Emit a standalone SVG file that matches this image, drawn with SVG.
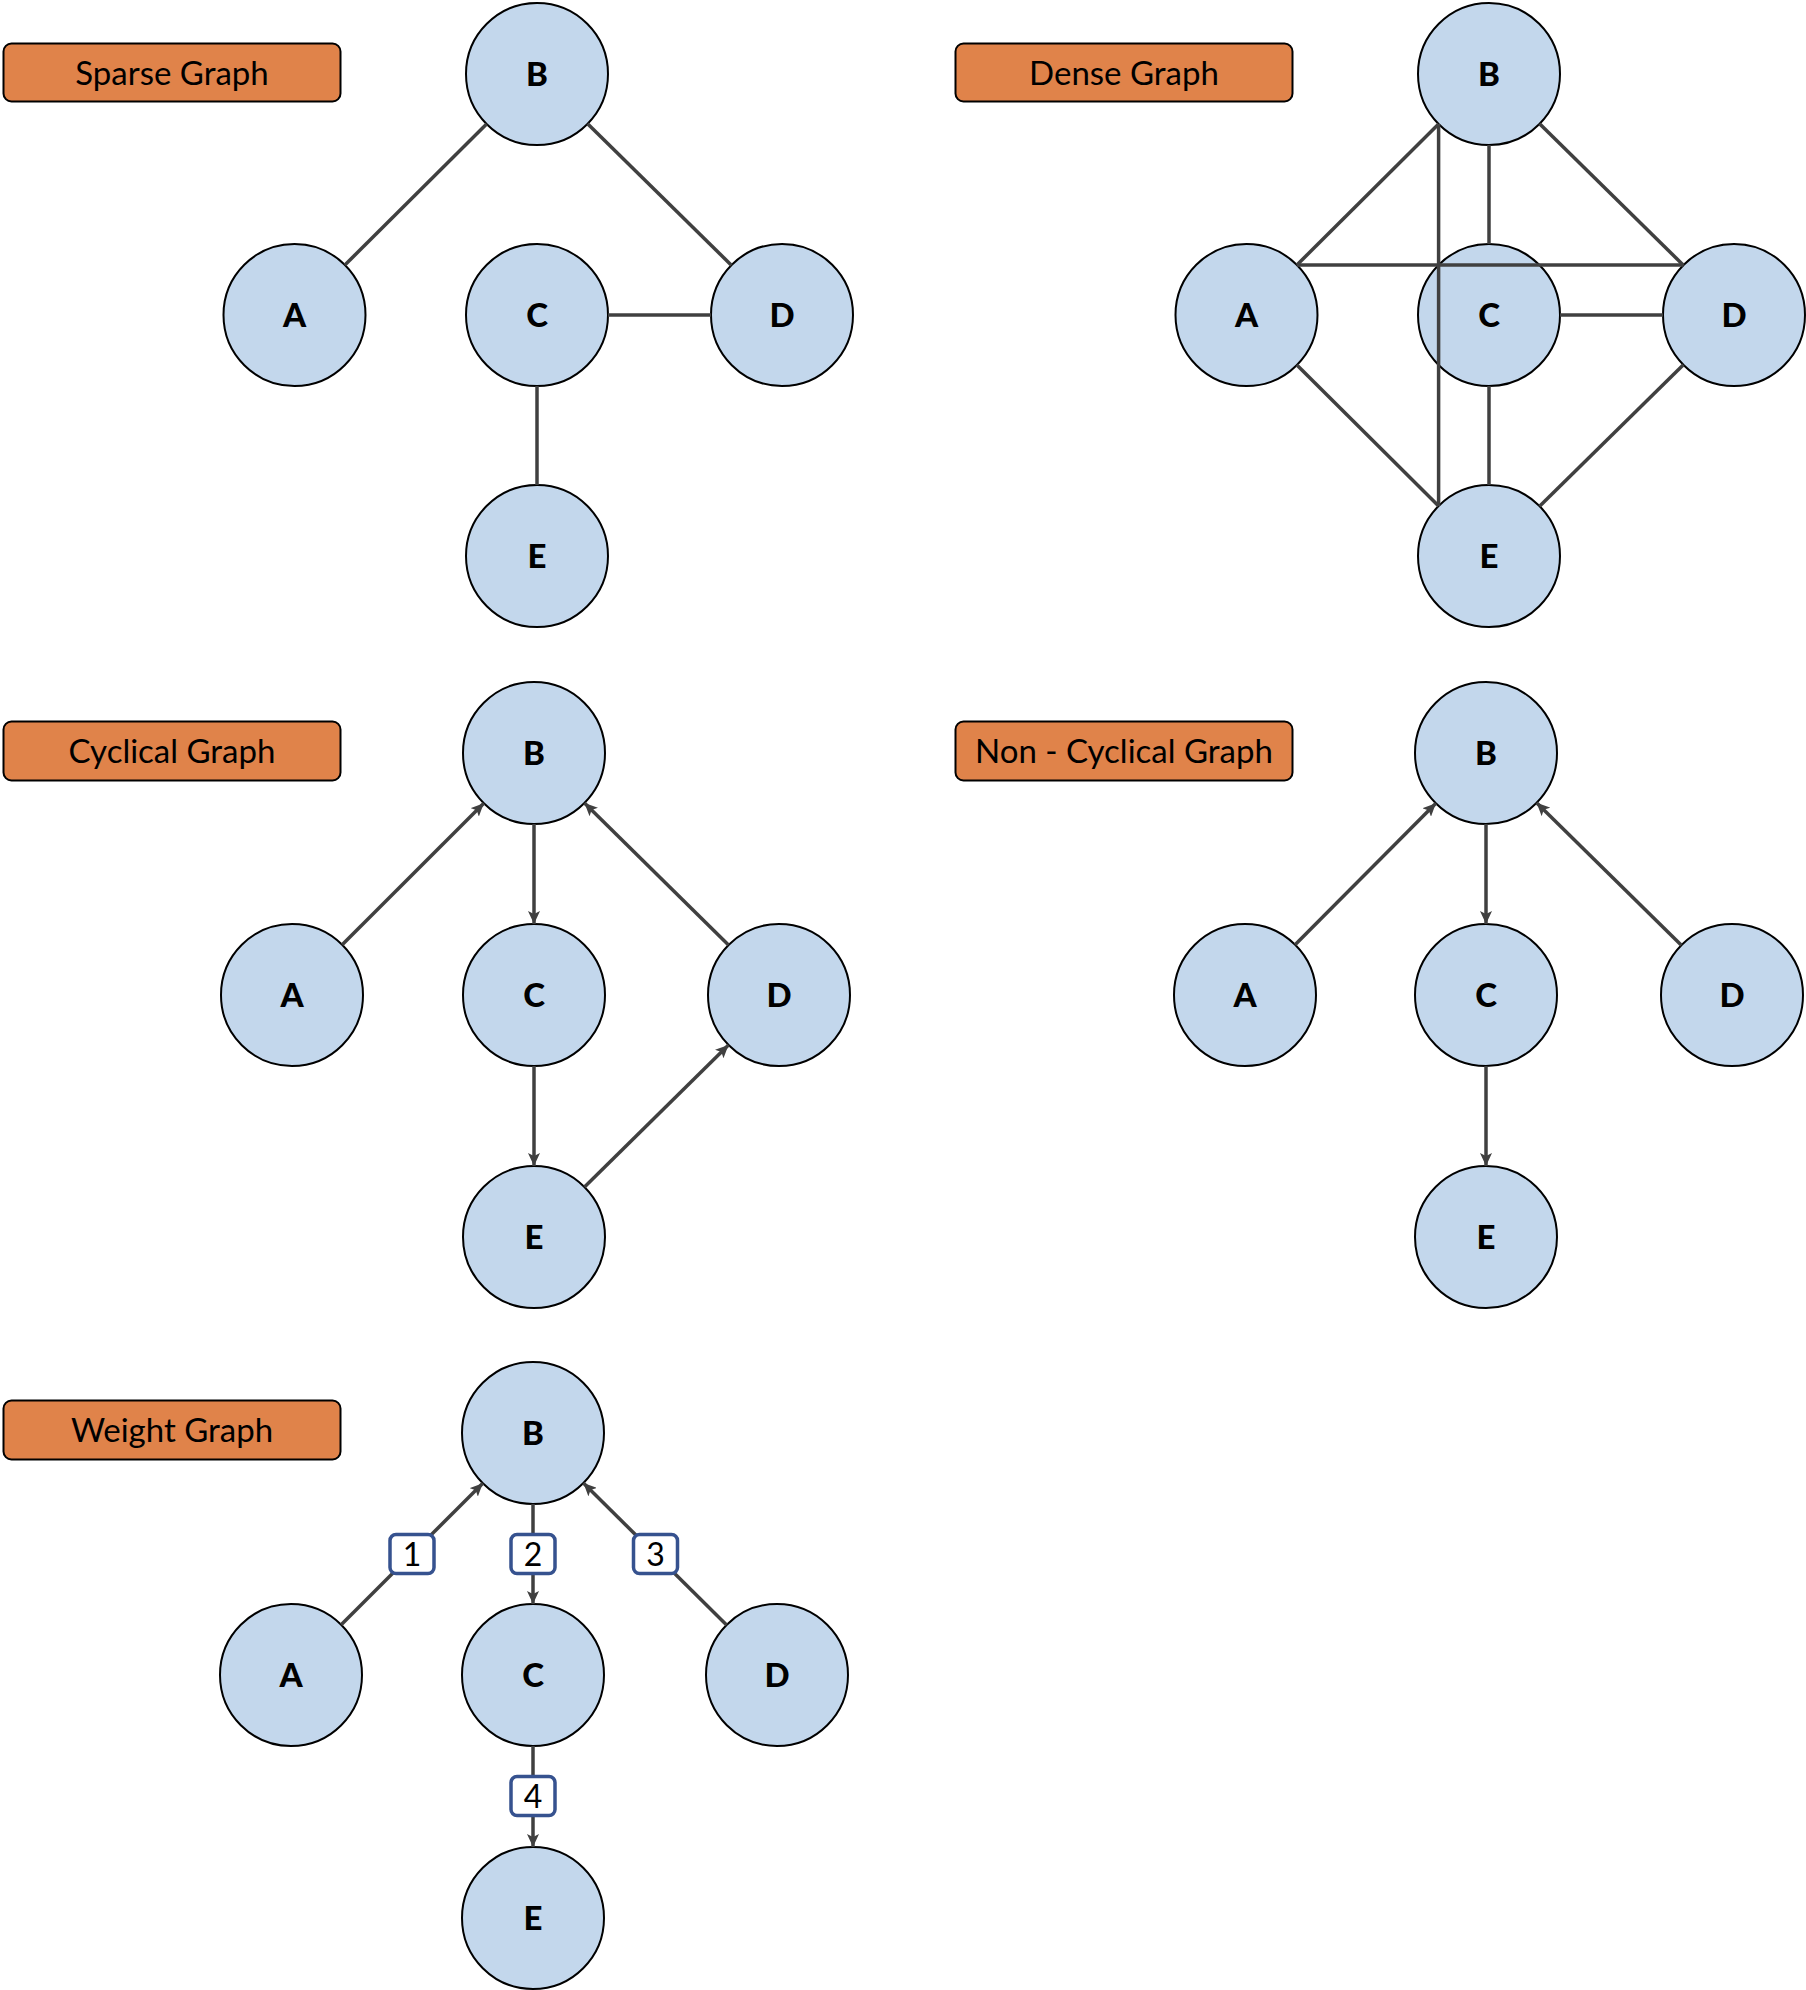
<svg xmlns="http://www.w3.org/2000/svg" width="1806" height="1990" viewBox="0 0 1806 1990">
<defs>
<style>
.title rect{fill:#E0834A;stroke:#000;stroke-width:2}
.title text{font-family:Lato,"Open Sans",sans-serif;font-size:33px;fill:#000;text-anchor:middle}
.node circle{fill:#C3D7EC;stroke:#000;stroke-width:2}
.node text{font-family:Lato,"Open Sans",sans-serif;font-size:33px;font-weight:900;fill:#000;text-anchor:middle}
.edges line{stroke:#404040;stroke-width:3.5;fill:none}
.edges .arr{marker-end:url(#arrow)}
.wl rect{fill:#fff;stroke:#36528F;stroke-width:3.5}
.wl text{font-family:Lato,"Open Sans",sans-serif;font-size:32px;fill:#000;text-anchor:middle}
</style>
<marker id="arrow" markerUnits="userSpaceOnUse" markerWidth="14" markerHeight="12" refX="13" refY="6" orient="auto">
<path d="M0,0 L13,6 L0,12 L3,6 Z" fill="#404040"/>
</marker>
</defs>
<rect width="1806" height="1990" fill="#fff"/>

<!-- Titles -->
<g id="title-sparse" class="title"><rect x="3.5" y="43.5" width="337" height="58" rx="8"/><text x="172" y="84.5">Sparse Graph</text></g>
<g id="title-dense" class="title"><rect x="955.5" y="43.5" width="337" height="58" rx="8"/><text x="1124" y="84.5">Dense Graph</text></g>
<g id="title-cyclical" class="title"><rect x="3.5" y="721.5" width="337" height="59" rx="8"/><text x="172" y="762.5">Cyclical Graph</text></g>
<g id="title-noncyclical" class="title"><rect x="955.5" y="721.5" width="337" height="59" rx="8"/><text x="1124" y="762.5">Non - Cyclical Graph</text></g>
<g id="title-weight" class="title"><rect x="3.5" y="1400.5" width="337" height="59" rx="8"/><text x="172" y="1441.5">Weight Graph</text></g>

<!-- Nodes: Sparse -->
<g id="s-B" class="node"><circle cx="537" cy="74" r="71"/><text x="537" y="86">B</text></g>
<g id="s-A" class="node"><circle cx="294.5" cy="315" r="71"/><text x="294.5" y="327">A</text></g>
<g id="s-C" class="node"><circle cx="537" cy="315" r="71"/><text x="537" y="327">C</text></g>
<g id="s-D" class="node"><circle cx="782" cy="315" r="71"/><text x="782" y="327">D</text></g>
<g id="s-E" class="node"><circle cx="537" cy="556" r="71"/><text x="537" y="568">E</text></g>

<!-- Nodes: Dense -->
<g id="d-B" class="node"><circle cx="1489" cy="74" r="71"/><text x="1489" y="86">B</text></g>
<g id="d-A" class="node"><circle cx="1246.5" cy="315" r="71"/><text x="1246.5" y="327">A</text></g>
<g id="d-C" class="node"><circle cx="1489" cy="315" r="71"/><text x="1489" y="327">C</text></g>
<g id="d-D" class="node"><circle cx="1734" cy="315" r="71"/><text x="1734" y="327">D</text></g>
<g id="d-E" class="node"><circle cx="1489" cy="556" r="71"/><text x="1489" y="568">E</text></g>

<!-- Nodes: Cyclical -->
<g id="c-B" class="node"><circle cx="534" cy="753" r="71"/><text x="534" y="765">B</text></g>
<g id="c-A" class="node"><circle cx="292" cy="995" r="71"/><text x="292" y="1007">A</text></g>
<g id="c-C" class="node"><circle cx="534" cy="995" r="71"/><text x="534" y="1007">C</text></g>
<g id="c-D" class="node"><circle cx="779" cy="995" r="71"/><text x="779" y="1007">D</text></g>
<g id="c-E" class="node"><circle cx="534" cy="1237" r="71"/><text x="534" y="1249">E</text></g>

<!-- Nodes: Non-cyclical -->
<g id="n-B" class="node"><circle cx="1486" cy="753" r="71"/><text x="1486" y="765">B</text></g>
<g id="n-A" class="node"><circle cx="1245" cy="995" r="71"/><text x="1245" y="1007">A</text></g>
<g id="n-C" class="node"><circle cx="1486" cy="995" r="71"/><text x="1486" y="1007">C</text></g>
<g id="n-D" class="node"><circle cx="1732" cy="995" r="71"/><text x="1732" y="1007">D</text></g>
<g id="n-E" class="node"><circle cx="1486" cy="1237" r="71"/><text x="1486" y="1249">E</text></g>

<!-- Nodes: Weight -->
<g id="w-B" class="node"><circle cx="533" cy="1433" r="71"/><text x="533" y="1445">B</text></g>
<g id="w-A" class="node"><circle cx="291" cy="1675" r="71"/><text x="291" y="1687">A</text></g>
<g id="w-C" class="node"><circle cx="533" cy="1675" r="71"/><text x="533" y="1687">C</text></g>
<g id="w-D" class="node"><circle cx="777" cy="1675" r="71"/><text x="777" y="1687">D</text></g>
<g id="w-E" class="node"><circle cx="533" cy="1918" r="71"/><text x="533" y="1930">E</text></g>

<!-- Connectors -->
<g id="connectors" class="edges">
<!-- sparse -->
<line x1="486.6" y1="124.1" x2="344.9" y2="265"/>
<line x1="587.6" y1="123.8" x2="731.4" y2="265.2"/>
<line x1="608" y1="315" x2="711" y2="315"/>
<line x1="537" y1="386" x2="537" y2="485"/>
<!-- dense -->
<line x1="1438.6" y1="124.1" x2="1296.9" y2="265"/>
<line x1="1539.6" y1="123.8" x2="1683.4" y2="265.2"/>
<line x1="1489" y1="145" x2="1489" y2="244"/>
<line x1="1438.6" y1="124.1" x2="1438.6" y2="506"/>
<line x1="1296.9" y1="265" x2="1683.6" y2="265"/>
<line x1="1296.9" y1="365" x2="1438.6" y2="506"/>
<line x1="1683.4" y1="364.8" x2="1539.6" y2="506.2"/>
<line x1="1560" y1="315" x2="1663" y2="315"/>
<line x1="1489" y1="386" x2="1489" y2="485"/>
<!-- cyclical -->
<line class="arr" x1="342.2" y1="944.8" x2="483.8" y2="803.2"/>
<line class="arr" x1="534" y1="824" x2="534" y2="924"/>
<line class="arr" x1="728.5" y1="945.1" x2="584.5" y2="802.9"/>
<line class="arr" x1="534" y1="1066" x2="534" y2="1166"/>
<line class="arr" x1="584.5" y1="1187.1" x2="728.5" y2="1044.9"/>
<!-- non-cyclical -->
<line class="arr" x1="1295.1" y1="944.7" x2="1435.9" y2="803.3"/>
<line class="arr" x1="1486" y1="824" x2="1486" y2="924"/>
<line class="arr" x1="1681.4" y1="945.2" x2="1536.6" y2="802.8"/>
<line class="arr" x1="1486" y1="1066" x2="1486" y2="1166"/>
<!-- weight -->
<line class="arr" x1="341.2" y1="1624.8" x2="482.8" y2="1483.2"/>
<line class="arr" x1="533" y1="1504" x2="533" y2="1604"/>
<line class="arr" x1="726.6" y1="1625" x2="583.4" y2="1483"/>
<line class="arr" x1="533" y1="1746" x2="533" y2="1847"/>
<g class="wl">
<rect x="390" y="1534.5" width="44" height="39" rx="6"/><text x="412" y="1565.5">1</text>
<rect x="511" y="1534.5" width="44" height="39" rx="6"/><text x="533" y="1565.5">2</text>
<rect x="633.5" y="1534.5" width="44" height="39" rx="6"/><text x="655.5" y="1565.5">3</text>
<rect x="511" y="1776.5" width="44" height="39" rx="6"/><text x="533" y="1807.5">4</text>
</g>
</g>
</svg>
